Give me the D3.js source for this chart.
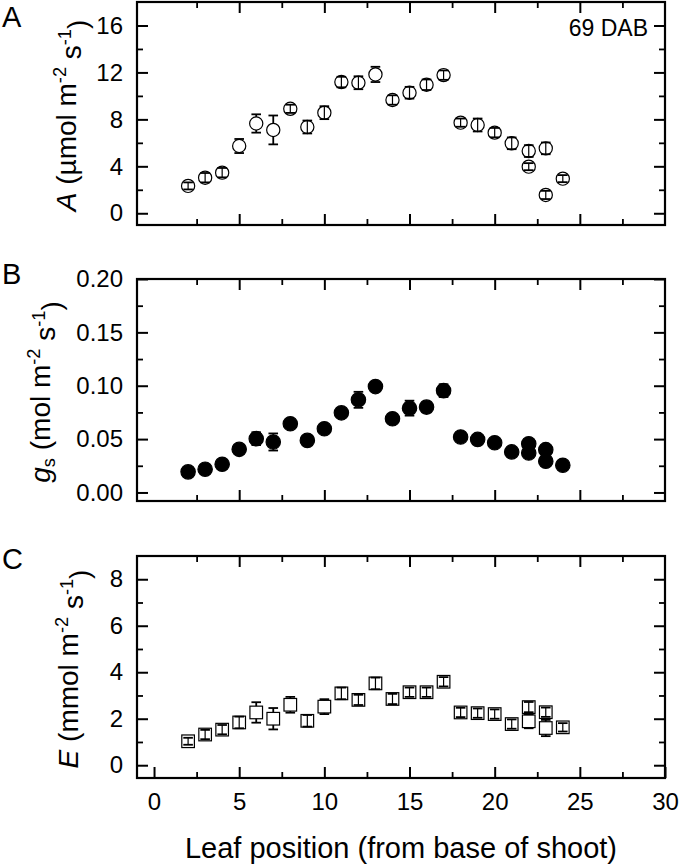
<!DOCTYPE html>
<html>
<head>
<meta charset="utf-8">
<script src="https://cdn.jsdelivr.net/npm/d3@7"></script>
<style>
  html, body { margin: 0; padding: 0; background: #fff; }
  svg { display: block; font-family: "Liberation Sans", Arial, sans-serif; }
</style>
</head>
<body>
<svg id="chart" width="680" height="865"></svg>
<script>
// ---- data ----
const leafPos = [2,3,4,5,6,7,8,9,10,11,12,13,14,15,16,17,18,19,20,21,22,22,23,23,24];
const photoA  = [2.33,3.03,3.46,5.73,7.65,7.10,8.90,7.35,8.57,11.18,11.12,11.83,9.65,10.27,10.95,11.77,7.72,7.52,6.87,5.96,5.30,3.97,5.53,1.56,2.95];
const photoAErr = [0.3,0.4,0.4,0.6,0.78,1.23,0.35,0.55,0.55,0.45,0.55,0.65,0.4,0.5,0.45,0.4,0.35,0.55,0.4,0.5,0.5,0.3,0.5,0.35,0.3];
const gs      = [0.0193,0.0218,0.0264,0.0404,0.0504,0.0473,0.0644,0.0488,0.0597,0.0746,0.0868,0.0992,0.0690,0.0790,0.0800,0.0954,0.0520,0.0497,0.0466,0.0380,0.0457,0.0370,0.0401,0.0292,0.0255];
const gsErr   = [0.002,0.002,0.002,0.003,0.006,0.008,0.003,0.003,0.003,0.003,0.0075,0.003,0.003,0.007,0.005,0.006,0.003,0.003,0.003,0.003,0.003,0.003,0.003,0.003,0.002];
const transE  = [1.03,1.32,1.53,1.84,2.27,2.00,2.60,1.91,2.52,3.09,2.81,3.52,2.85,3.14,3.14,3.59,2.27,2.24,2.20,1.77,2.50,1.89,2.28,1.60,1.63];
const transEErr = [0.15,0.2,0.2,0.25,0.44,0.46,0.34,0.25,0.32,0.25,0.22,0.25,0.22,0.2,0.2,0.2,0.2,0.2,0.2,0.2,0.22,0.3,0.2,0.35,0.18];

const xMajorTicks = [0,5,10,15,20,25,30];
const xMinorTicks = [2.5,7.5,12.5,17.5,22.5,27.5];
const aMajorTicks = [0,4,8,12,16];
const aMinorTicks = [2,6,10,14,18];
const gsMajorTicks = [0,0.05,0.10,0.15,0.20];
const gsMinorTicks = [0.025,0.075,0.125,0.175];
const eMajorTicks = [0,2,4,6,8];
const eMinorTicks = [1,3,5,7,9];

// ---- layout ----
const svg = d3.select("#chart");
const L = 137, R = 665;
const x = d3.scaleLinear().domain([-1, 30]).range([L, R]);
const FONT_TICK = 24, FONT_TITLE = 28;

const panels = [
  { letter: "A", top: 2, bottom: 225, domain: [-1, 18], vals: photoA, errs: photoAErr,
    major: aMajorTicks, minor: aMinorTicks, fmt: d3.format("d"), marker: "openCircle",
    titleX: 76, letterY: 27 },
  { letter: "B", top: 279, bottom: 501, domain: [-0.008, 0.2], vals: gs, errs: gsErr,
    major: gsMajorTicks, minor: gsMinorTicks, fmt: d3.format(".2f"), marker: "filledCircle",
    titleX: 50, letterY: 284 },
  { letter: "C", top: 556, bottom: 778, domain: [-0.55, 9], vals: transE, errs: transEErr,
    major: eMajorTicks, minor: eMinorTicks, fmt: d3.format("d"), marker: "openSquare",
    titleX: 78, letterY: 569 }
];

function styleAxis(g, w) {
  g.select(".domain").remove();
  g.selectAll(".tick line").attr("stroke", "#000").attr("stroke-width", w);
  g.selectAll(".tick text").attr("fill", "#000").attr("font-size", FONT_TICK)
    .attr("font-family", "Liberation Sans, Arial, sans-serif");
}

panels.forEach((p, pi) => {
  const y = d3.scaleLinear().domain(p.domain).range([p.bottom, p.top]);
  const g = svg.append("g");
  const MAJ = 11, MIN = 6;

  // left axis (labels)
  g.append("g").attr("transform", `translate(${L},0)`)
    .call(d3.axisLeft(y).tickValues(p.major).tickSize(-MAJ).tickPadding(14).tickFormat(p.fmt))
    .call(s => styleAxis(s, 2));
  g.append("g").attr("transform", `translate(${L},0)`)
    .call(d3.axisLeft(y).tickValues(p.minor.filter(v => v < p.domain[1] - 1e-9)).tickSize(-MIN).tickFormat(""))
    .call(s => styleAxis(s, 1.8));
  // right axis
  g.append("g").attr("transform", `translate(${R},0)`)
    .call(d3.axisRight(y).tickValues(p.major).tickSize(-MAJ).tickFormat(""))
    .call(s => styleAxis(s, 2));
  g.append("g").attr("transform", `translate(${R},0)`)
    .call(d3.axisRight(y).tickValues(p.minor.filter(v => v < p.domain[1] - 1e-9)).tickSize(-MIN).tickFormat(""))
    .call(s => styleAxis(s, 1.8));
  // bottom axis
  const isLast = pi === panels.length - 1;
  g.append("g").attr("transform", `translate(0,${p.bottom})`)
    .call(d3.axisBottom(x).tickValues(xMajorTicks.filter(v => v > 0 && v < 30 || isLast)).tickSize(-MAJ).tickPadding(15)
      .tickFormat(isLast ? d3.format("d") : ""))
    .call(s => styleAxis(s, 2));
  g.append("g").attr("transform", `translate(0,${p.bottom})`)
    .call(d3.axisBottom(x).tickValues(xMinorTicks).tickSize(-MIN).tickFormat(""))
    .call(s => styleAxis(s, 1.8));
  // top axis
  g.append("g").attr("transform", `translate(0,${p.top})`)
    .call(d3.axisTop(x).tickValues(xMajorTicks.filter(v => v > 0 && v < 30)).tickSize(-MAJ).tickFormat(""))
    .call(s => styleAxis(s, 2));
  g.append("g").attr("transform", `translate(0,${p.top})`)
    .call(d3.axisTop(x).tickValues(xMinorTicks).tickSize(-MIN).tickFormat(""))
    .call(s => styleAxis(s, 1.8));

  // frame
  g.append("rect").attr("x", L).attr("y", p.top).attr("width", R - L).attr("height", p.bottom - p.top)
    .attr("fill", "none").attr("stroke", "#000").attr("stroke-width", 2.2);

  // data
  const data = leafPos.map((lp, i) => ({ x: lp, v: p.vals[i], e: p.errs[i] }));
  const r = p.marker === "filledCircle" ? 7.2 : 6.6;
  const half = 6.3; // square half side
  const ext = p.marker === "openSquare" ? half : r;
  const capW = 4.8;

  const pts = g.append("g");
  // markers
  data.forEach(d => {
    const cx = x(d.x), cy = y(d.v);
    if (p.marker === "openSquare") {
      pts.append("rect").attr("x", cx - half).attr("y", cy - half).attr("width", 2 * half).attr("height", 2 * half)
        .attr("fill", "#fff").attr("stroke", "#000").attr("stroke-width", 1.2);
    } else {
      pts.append("circle").attr("cx", cx).attr("cy", cy).attr("r", r)
        .attr("fill", p.marker === "filledCircle" ? "#000" : "#fff")
        .attr("stroke", "#000").attr("stroke-width", 1.2);
    }
  });
  // error bars
  data.forEach(d => {
    const cx = x(d.x), cy = y(d.v);
    const yt = y(d.v + d.e), yb = y(d.v - d.e);
    const off = cy - yt;
    if (off > ext) {
      pts.append("line").attr("x1", cx).attr("x2", cx).attr("y1", yt).attr("y2", cy - ext)
        .attr("stroke", "#000").attr("stroke-width", 1.8);
      pts.append("line").attr("x1", cx).attr("x2", cx).attr("y1", cy + ext).attr("y2", yb)
        .attr("stroke", "#000").attr("stroke-width", 1.8);
    } else if (p.marker !== "filledCircle") {
      pts.append("line").attr("x1", cx).attr("x2", cx).attr("y1", yt).attr("y2", yb)
        .attr("stroke", "#000").attr("stroke-width", 1.2);
    }
    [yt, yb].forEach(yy => {
      pts.append("line").attr("x1", cx - capW).attr("x2", cx + capW).attr("y1", yy).attr("y2", yy)
        .attr("stroke", "#000").attr("stroke-width", 1.8);
    });
  });

  // panel letter
  svg.append("text").attr("x", 2).attr("y", p.letterY).attr("font-size", 29).attr("fill", "#000").text(p.letter);

  // y-axis title
  const cy = (p.top + p.bottom) / 2 + 2;
  const t = svg.append("text").attr("transform", `translate(${p.titleX},${cy}) rotate(-90)`)
    .attr("text-anchor", "middle").attr("font-size", FONT_TITLE).attr("fill", "#000");
  const sup = (txt) => {
    t.append("tspan").attr("font-size", "0.65em").attr("dy", "-0.55em").text(txt);
    return t.append("tspan").attr("dy", "0.55em");
  };
  if (p.letter === "A") {
    t.append("tspan").attr("font-style", "italic").text("A");
    t.append("tspan").text(" (\u00b5mol m");
    sup("-2").text(" s");
    sup("-1").text(")");
  } else if (p.letter === "B") {
    t.append("tspan").attr("font-style", "italic").text("g");
    t.append("tspan").attr("font-size", "0.65em").attr("dy", "0.3em").text("s");
    t.append("tspan").attr("dy", "-0.2em").text(" (mol m");
    sup("-2").text(" s");
    sup("-1").text(")");
  } else {
    t.append("tspan").attr("font-style", "italic").text("E");
    t.append("tspan").text(" (mmol m");
    sup("-2").text(" s");
    sup("-1").text(")");
  }
});

// annotation
svg.append("text").attr("x", 648).attr("y", 36).attr("text-anchor", "end")
  .attr("font-size", 23).attr("fill", "#000").text("69 DAB");

// x-axis title
svg.append("text").attr("x", (L + R) / 2).attr("y", 858).attr("text-anchor", "middle")
  .attr("font-size", 29).attr("fill", "#000").text("Leaf position (from base of shoot)");
</script>
</body>
</html>
